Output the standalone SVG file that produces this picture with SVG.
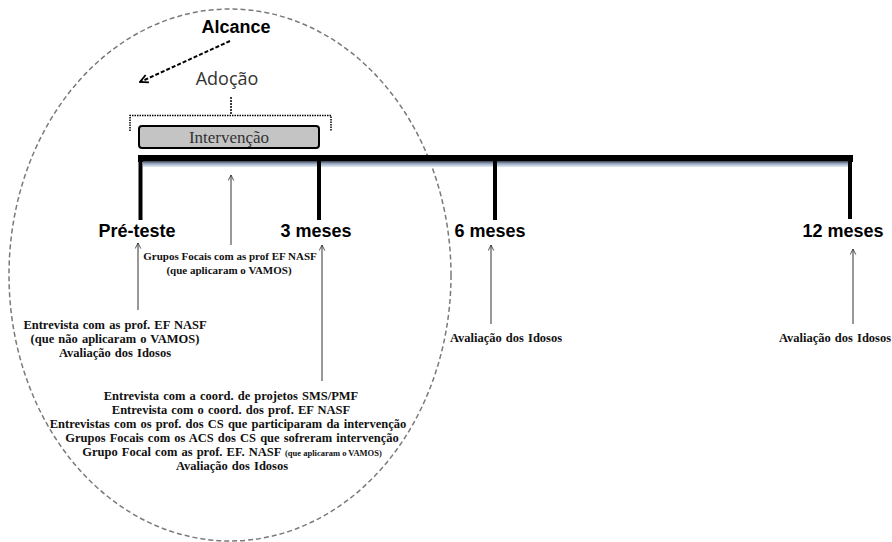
<svg xmlns="http://www.w3.org/2000/svg" width="892" height="542" viewBox="0 0 892 542">
  <defs>
    <linearGradient id="barShade" x1="0" y1="0" x2="0" y2="1">
      <stop offset="0" stop-color="#3a4150"/>
      <stop offset="0.45" stop-color="#9aabc4"/>
      <stop offset="1" stop-color="#e6ecf3"/>
    </linearGradient>
    <marker id="thinHead" viewBox="0 0 10 10" refX="9" refY="5" markerWidth="7" markerHeight="7" orient="auto-start-reverse" markerUnits="userSpaceOnUse">
      <path d="M1,1 L9,5 L1,9" fill="none" stroke="context-stroke" stroke-width="1.2"/>
    </marker>
    <marker id="dashHead" viewBox="0 0 10 10" refX="9" refY="5" markerWidth="10" markerHeight="10" orient="auto" markerUnits="userSpaceOnUse">
      <path d="M1,1 L9,5 L1,9" fill="none" stroke="#000" stroke-width="1.8"/>
    </marker>
  </defs>
  <style>
    .title { font-family: "Liberation Sans", Arial, sans-serif; font-weight: bold; font-size: 18px; fill: #000; }
    .soft { font-family: "Open Sans", "Liberation Sans", sans-serif; font-size: 18px; fill: #333; }
    .note { font-family: "Liberation Serif", "Times New Roman", serif; font-weight: bold; font-size: 12.5px; word-spacing: 1px; fill: #111; }
    .small { font-family: "Liberation Serif", "Times New Roman", serif; font-weight: bold; font-size: 11px; fill: #111; }
    .tiny { font-size: 8.5px; word-spacing: 0; }
    .tick { stroke: #000; stroke-width: 4; fill: none; }
    .pointer { stroke: #333; stroke-width: 1; fill: none; marker-end: url(#thinHead); }
  </style>
  <rect width="892" height="542" fill="#fff"/>

  <!-- scope ellipse -->
  <ellipse id="scope" cx="230" cy="275" rx="221" ry="266" fill="none" stroke="#7a7a7a" stroke-width="1.5" stroke-dasharray="5 3"/>

  <!-- reach / adoption labels -->
  <g id="alcance">
    <text class="title" x="236" y="33" text-anchor="middle">Alcance</text>
  </g>
  <g id="adocao">
    <text class="soft" x="227" y="85" text-anchor="middle">Adoção</text>
  </g>

  <!-- intervention period -->
  <g id="intervencao">
    <rect x="139" y="126" width="180" height="22" rx="3" fill="#c4c4c4" stroke="#000" stroke-width="2"/>
    <text x="229" y="143" text-anchor="middle" font-family="Liberation Serif, Times New Roman, serif" font-size="17" fill="#333">Intervenção</text>
  </g>

  <!-- timeline -->
  <g id="timeline">
    <rect x="138" y="155" width="715" height="7" fill="#000"/>
    <rect x="143" y="161" width="705" height="6" fill="url(#barShade)"/>
    <line class="tick" x1="140.5" y1="155" x2="140.5" y2="220"/>
    <line class="tick" x1="319" y1="160" x2="319" y2="220"/>
    <line class="tick" x1="495" y1="160" x2="495" y2="220"/>
    <line class="tick" x1="850" y1="155" x2="850" y2="219"/>
  </g>

  <!-- time points -->
  <g id="pre-teste">
    <text class="title" x="137" y="237" text-anchor="middle">Pré-teste</text>
  </g>
  <g id="m3">
    <text class="title" x="316" y="237" text-anchor="middle">3 meses</text>
  </g>
  <g id="m6">
    <text class="title" x="490" y="237" text-anchor="middle">6 meses</text>
  </g>
  <g id="m12">
    <text class="title" x="843" y="237" text-anchor="middle">12 meses</text>
  </g>

  <!-- data collection notes -->
  <g id="grupos-focais">
    <text class="small" x="230" y="260" text-anchor="middle">Grupos Focais com as prof EF NASF</text>
    <text class="small" x="229" y="274" text-anchor="middle">(que aplicaram o VAMOS)</text>
  </g>
  <g id="coleta-pre">
    <text class="note" x="115" y="329" text-anchor="middle">Entrevista com as prof. EF  NASF</text>
    <text class="note" x="115" y="343" text-anchor="middle">(que não aplicaram o VAMOS)</text>
    <text class="note" x="115" y="357" text-anchor="middle">Avaliação dos Idosos</text>
  </g>
  <g id="coleta-3m">
    <text class="note" x="231" y="400" text-anchor="middle">Entrevista com a coord. de projetos SMS/PMF</text>
    <text class="note" x="231" y="414" text-anchor="middle">Entrevista com o coord. dos prof. EF NASF</text>
    <text class="note" x="228" y="428" text-anchor="middle">Entrevistas com os prof. dos CS que participaram da intervenção</text>
    <text class="note" x="232" y="442" text-anchor="middle">Grupos Focais com os ACS dos CS que sofreram intervenção</text>
    <text class="note" x="232" y="456" text-anchor="middle">Grupo Focal com as prof. EF. NASF <tspan class="tiny">(que aplicaram o VAMOS)</tspan></text>
    <text class="note" x="232" y="470" text-anchor="middle">Avaliação dos Idosos</text>
  </g>
  <g id="coleta-6m">
    <text class="note" x="506" y="342" text-anchor="middle">Avaliação dos Idosos</text>
  </g>
  <g id="coleta-12m">
    <text class="note" x="835" y="342" text-anchor="middle">Avaliação dos Idosos</text>
  </g>

  <!-- connectors -->
  <g id="connectors">
    <line x1="230" y1="41" x2="140" y2="82" stroke="#000" stroke-width="2" stroke-dasharray="4 2" marker-end="url(#dashHead)"/>
    <line x1="231" y1="97" x2="231" y2="115" stroke="#000" stroke-width="1.5" stroke-dasharray="2 1"/>
    <path d="M130,131 V115.5 H331 V131" fill="none" stroke="#000" stroke-width="1.5" stroke-dasharray="1.5 1"/>
    <line class="pointer" x1="231" y1="245" x2="231" y2="175" stroke="#777"/>
    <line class="pointer" x1="138" y1="310" x2="138" y2="243"/>
    <line class="pointer" x1="322" y1="381" x2="322" y2="245"/>
    <line class="pointer" x1="491" y1="324" x2="491" y2="245"/>
    <line class="pointer" x1="853" y1="324" x2="853" y2="249"/>
  </g>
</svg>
